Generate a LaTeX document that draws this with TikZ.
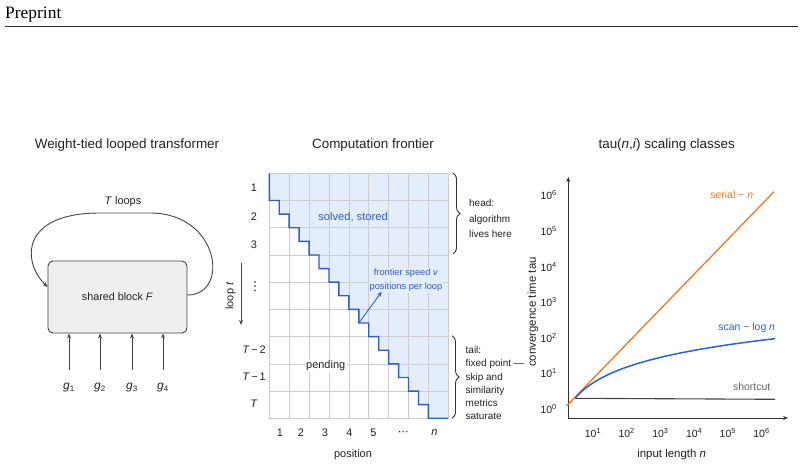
\documentclass[tikz,border=0pt]{standalone}
\usepackage{fontspec}
\setmainfont{Liberation Sans}
\newfontfamily\preprintfont{Liberation Serif}
\newfontfamily\dotsfont{DejaVu Sans}
\usetikzlibrary{arrows.meta,decorations.pathreplacing}

\definecolor{frontblue}{HTML}{2F5FC4}
\definecolor{solvedfill}{HTML}{E4EDFB}
\definecolor{gridgray}{HTML}{CCCCCC}
\definecolor{serialorange}{HTML}{EC7A22}
\definecolor{scanblue}{HTML}{2B63C9}
\definecolor{blockgray}{HTML}{EFEFEF}
\definecolor{inkgray}{HTML}{444444}
\definecolor{textdark}{HTML}{222222}

\begin{document}
\begin{tikzpicture}[x=1bp,y=-1bp,text=textdark,
  paneltitle/.style={font=\fontsize{13.5}{16}\selectfont},
  lbl/.style={font=\fontsize{11}{13}\selectfont, inner sep=0pt},
  small/.style={font=\fontsize{10.5}{12}\selectfont, inner sep=0pt},
  tip/.style={-{Stealth[length=5bp,width=4bp]}}]

\useasboundingbox (0,0) rectangle (804,469);
\fill[white] (0,0) rectangle (804,469);

% page header
\node[anchor=base west, inner sep=0pt, font=\preprintfont\fontsize{17.5}{20}\selectfont, text=black] (pre) at (5,19) {Preprint};
\draw[line width=1bp, black!85] (5,27) -- (798,27);

%% left: looped block
\node[paneltitle] (ttl1) at (127,145) {Weight-tied looped transformer};
\node[draw=inkgray, fill=blockgray, rounded corners=5bp, minimum width=139bp, minimum height=72bp,
      line width=0.9bp, font=\fontsize{10.8}{12}\selectfont] (blk) at (117.5,297) {shared block \textit{F}};
\draw[inkgray, line width=0.9bp, tip] ([yshift=2bp]blk.east) .. controls (230,295) and (220,213) .. (150,213)
   -- (100,213) .. controls (20,213) and (22,262) .. ([yshift=10bp]blk.west);
\node[lbl] (tl) at (123,202) {\textit{T} loops};

\foreach \i/\x in {1/69,2/100,3/132,4/163}{
  \node[font=\fontsize{12}{14}\selectfont, inner sep=0pt] (g\i) at (\x,388) {\textit{g}\textsubscript{\i}};
  \draw[inkgray, line width=0.9bp, tip] ([yshift=13bp]g\i.north) -- (g\i.north |- blk.south);
}

%% middle: frontier grid
\node[paneltitle] (ttl2) at (373,145) {Computation frontier};

\begin{scope}[shift={(269.3,173.3)}, x=19.89bp, y=-27.22bp]
  \fill[solvedfill] (0,0) -- (0,1) \foreach \k in {1,...,16}{ -- ++(0.5,0) -- ++(0,0.5)} -- (9,9) -- (9,0) -- cycle;
  \foreach \c in {0,...,9}{
    \draw[gridgray, line width=0.6bp] (\c,0) -- (\c,9);
    \draw[gridgray, line width=0.6bp] (0,\c) -- (9,\c);
  }
  \draw[frontblue, line width=1.4bp] (0,0) -- (0,1) \foreach \k in {1,...,16}{ -- ++(0.5,0) -- ++(0,0.5)} -- (9,9);
  \coordinate (fc) at (4.5,5.5);
\end{scope}

% row and column labels
\foreach \r/\y/\txt in {1/187.7/1, 2/216.7/2, 3/244.3/3, 7/350/{\textit{T}\,−\,2}, 8/376.7/{\textit{T}\,−\,1}, 9/404/\textit{T}}
  \node[lbl] (row\r) at (254,\y) {\txt};
\node[lbl, font=\dotsfont\fontsize{12.5}{14}\selectfont] (rowdots) at (255,287) {⋮};
\foreach \c/\x/\txt in {1/280/1, 2/301/2, 3/325/3, 4/349.3/4, 5/373.3/5, 6/403.3/{\dotsfont⋯}, 7/434.3/\textit{n}}
  \node[lbl] (col\c) at (\x,433) {\txt};
\node[lbl] (poslbl) at (353,455) {position};

\node[lbl, rotate=90] (looplbl) at (230.5,296) {loop \textit{t}};
\coordinate (la) at (241,263);
\coordinate (lb) at (241,325);
\draw[inkgray, line width=0.9bp, tip] (la) -- (lb);

\node[font=\fontsize{11.2}{13}\selectfont, text=frontblue] (solved) at (353,217) {solved, stored};
\node[lbl, fill=white, inner sep=1.5bp] (pending) at (325.7,365.7) {pending};
\node[font=\fontsize{9.3}{14}\selectfont, text=frontblue, align=center, fill=solvedfill, inner sep=1bp] (speed) at (406,280.3) {frontier speed \textit{v}\\positions per loop};
\coordinate (fa) at (381.7,291.7);
\draw[frontblue, line width=0.9bp, tip] (fc) -- (fa);

% braces
\draw[decorate, decoration={brace, amplitude=7bp}, line width=0.9bp, black!80] (453,173) -- (453,254);
\draw[decorate, decoration={brace, amplitude=7bp}, line width=0.9bp, black!80] (452,335.7) -- (452,418.3);
\node[anchor=west, align=left, inner sep=0pt, font=\fontsize{10}{15.3}\selectfont] (headtxt) at (469,218.5) {head:\\algorithm\\lives here};
\node[anchor=west, align=left, inner sep=0pt, font=\fontsize{10}{13.3}\selectfont] (tailtxt) at (465.5,383.3) {tail:\\fixed point —\\skip and\\similarity\\metrics\\saturate};

%% right: scaling plot
\node[paneltitle] (ttl3) at (666.7,145) {tau(\textit{n},\textit{i}) scaling classes};
\coordinate (org) at (568.3,418);
\draw[black!80, line width=1bp, tip] (org) -- (568.3,177);
\draw[black!80, line width=1bp, tip] (org) -- (788,418);

\foreach \k in {0,...,6}
  \node[small, anchor=east] (ty\k) at (557,{409-35.6*\k}) {10\textsuperscript{\k}};
\foreach \k in {1,...,6}
  \node[small] (tx\k) at ({593+33.7*(\k-1)},433) {10\textsuperscript{\k}};

\draw[serialorange, line width=1.3bp] (566.5,406) -- (774,191.7);
\draw[inkgray, line width=1.1bp] (575,398.3) -- (775,399.3);
\draw[scanblue, line width=1.5bp, domain=0:200, samples=60, smooth, variable=\x] plot ({575+\x},{398.3-25.8*ln(1+\x/22)});

\node[font=\fontsize{10.5}{12}\selectfont, text=serialorange] (serlbl) at (731.7,195) {serial \textasciitilde\ \textit{n}};
\node[font=\fontsize{10.5}{12}\selectfont, text=scanblue] (scanlbl) at (746.7,327.3) {scan \textasciitilde\ log \textit{n}};
\node[font=\fontsize{10.5}{12}\selectfont, text=black!60] (shortlbl) at (751.7,386.7) {shortcut};
\node[font=\fontsize{11.5}{13}\selectfont, rotate=90] (ylbl) at (533,312) {convergence time tau};
\node[font=\fontsize{11.5}{13}\selectfont] (xlbl) at (671.7,455) {input length \textit{n}};

\end{tikzpicture}
\end{document}
